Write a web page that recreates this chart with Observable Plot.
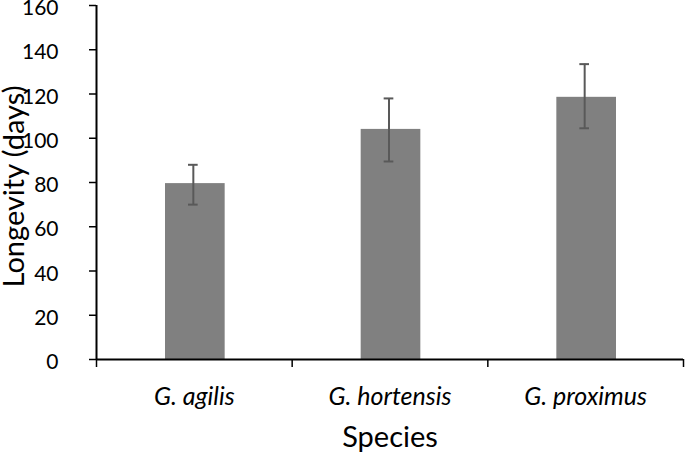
<!DOCTYPE html>
<html>
<head>
<meta charset="utf-8">
<script src="https://cdn.jsdelivr.net/npm/d3@7"></script>
<script src="https://cdn.jsdelivr.net/npm/@observablehq/plot@0.6"></script>
<style>
  html, body { margin: 0; padding: 0; background: #fff; }
</style>
</head>
<body>
<div id="chart"></div>
<script>
const species = ["G. agilis", "G. hortensis", "G. proximus"];
const meanLongevity = [79.5, 104, 118.5];
const errLow = [70, 89.5, 104.5];
const errHigh = [88, 118, 133.5];
const yTicks = [0, 20, 40, 60, 80, 100, 120, 140, 160];
const yLabel = "Longevity (days)";
const xLabel = "Species";

const data = species.map((s, i) => ({i, species: s, mean: meanLongevity[i], lo: errLow[i], hi: errHigh[i]}));

const chart = Plot.plot({
  width: 685,
  height: 459,
  marginLeft: 96,
  marginRight: 2,
  marginTop: 5,
  marginBottom: 100,
  style: {fontFamily: "Lato", color: "#000", background: "#fff", overflow: "visible"},
  x: {type: "linear", domain: [0, species.length]},
  y: {domain: [0, 160]},
  marks: [
    Plot.rectY(data, {x1: d => d.i, x2: d => d.i + 1, y1: 0, y2: "mean", fill: "#808080", insetLeft: 69, insetRight: 67}),
    Plot.ruleX(data, {x: d => d.i + 0.5, y1: "lo", y2: "hi", stroke: "#595959", strokeWidth: 2, dx: -1}),
    Plot.ruleY(data, {y: "hi", x1: d => d.i, x2: d => d.i + 1, insetLeft: 92, insetRight: 94, stroke: "#595959", strokeWidth: 2}),
    Plot.ruleY(data, {y: "lo", x1: d => d.i, x2: d => d.i + 1, insetLeft: 92, insetRight: 94, stroke: "#595959", strokeWidth: 2}),
    Plot.axisY({ticks: yTicks, tickSize: 7, tickFormat: () => "", label: null, strokeWidth: 1.5}),
    Plot.axisY({ticks: yTicks, tickSize: 7, tickPadding: 31, fontSize: 21, label: null, strokeOpacity: 0, dy: 3}),
    Plot.axisX({ticks: [0, 1, 2, 3], tickSize: 8, tickFormat: () => "", label: null, strokeWidth: 1.5}),
    Plot.axisX({ticks: [0.5, 1.5, 2.5], tickSize: 0, tickPadding: 28, tickFormat: d => species[Math.round(d - 0.5)], fontSize: 25, fontStyle: "italic", label: null}),
    Plot.ruleX([0], {y1: 0, y2: 160, stroke: "#000", strokeWidth: 2}),
    Plot.ruleY([0], {stroke: "#000", strokeWidth: 2}),
    Plot.text([yLabel], {frameAnchor: "left", textAnchor: "middle", text: d => d, rotate: -90, dx: -82, dy: 4, fontSize: 29, fill: "#000"}),
    Plot.text([xLabel], {frameAnchor: "bottom", text: d => d, dy: 87, fontSize: 29, fill: "#000"})
  ]
});
document.getElementById("chart").appendChild(chart);
</script>
</body>
</html>
